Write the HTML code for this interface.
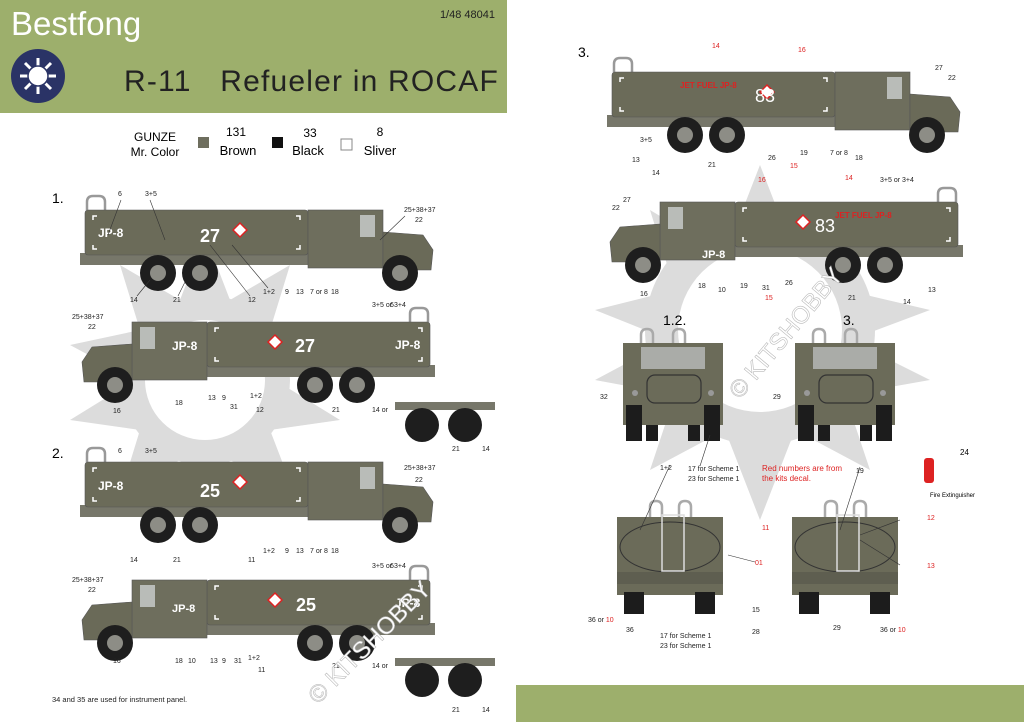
<!DOCTYPE html>
<html><head><meta charset="utf-8"><style>
html,body{margin:0;padding:0;background:#fff}
svg{display:block}
text{font-family:"Liberation Sans",sans-serif}
</style></head><body>
<svg width="1024" height="722" viewBox="0 0 1024 722" xmlns="http://www.w3.org/2000/svg">
<defs>
<g id="truck">
 <path d="M2,0 v-8 q0,-6 6,-6 h6 q6,0 6,6 v8" fill="none" stroke="#999" stroke-width="2.5"/>
 <rect x="-5" y="43" width="350" height="12" fill="#77776a"/>
 <rect x="0" y="0" width="223" height="45" rx="3" fill="#6b6b59" stroke="#555" stroke-width="0.6"/>
 <path d="M8,10 v-4 h4 M8,35 v4 h4 M215,10 v-4 h-4 M215,35 v4 h-4" stroke="#fff" stroke-width="1.5" fill="none"/>
 <rect x="223" y="0" width="75" height="58" fill="#6e6e5d" stroke="#555" stroke-width="0.6"/>
 <rect x="275" y="5" width="15" height="22" fill="#b9bcb8"/>
 <path d="M298,22 L338,25 L348,40 L346,60 L298,60 Z" fill="#6a6a58" stroke="#555" stroke-width="0.6"/>
 <g fill="#1e1e1e"><circle cx="73" cy="63" r="18"/><circle cx="115" cy="63" r="18"/><circle cx="315" cy="63" r="18"/></g>
 <g fill="#8d8d86"><circle cx="73" cy="63" r="8"/><circle cx="115" cy="63" r="8"/><circle cx="315" cy="63" r="8"/></g>
 <path d="M148,20 l7,-7 l7,7 l-7,7 z" fill="#fff" stroke="#d22" stroke-width="1.5"/>
</g>
<g id="front">
 <path d="M18,0 v-8 q0,-6 6,-6 q6,0 6,6 v8 M50,0 v-8 q0,-6 6,-6 q6,0 6,6 v8" fill="none" stroke="#aaa" stroke-width="2.5"/>
 <rect x="0" y="0" width="100" height="82" fill="#6b6b59"/>
 <rect x="18" y="4" width="64" height="22" fill="#aaaca8"/>
 <rect x="24" y="32" width="54" height="28" rx="8" fill="none" stroke="#333" stroke-width="1.2"/>
 <rect x="3" y="62" width="16" height="36" fill="#1c1c1c"/><rect x="81" y="62" width="16" height="36" fill="#1c1c1c"/>
 <rect x="23" y="82" width="12" height="16" fill="#1c1c1c"/><rect x="65" y="82" width="12" height="16" fill="#1c1c1c"/>
 <circle cx="12" cy="50" r="3" fill="#999"/><circle cx="88" cy="50" r="3" fill="#999"/>
</g>
<g id="rear">
 <path d="M33,0 v-10 q0,-6 6,-6 q6,0 6,6 v10 M62,0 v-10 q0,-6 6,-6 q6,0 6,6 v10" fill="none" stroke="#aaa" stroke-width="2.5"/>
 <rect x="0" y="0" width="106" height="78" fill="#6b6b59"/>
 <ellipse cx="53" cy="30" rx="50" ry="25" fill="none" stroke="#333" stroke-width="1"/>
 <rect x="45" y="-2" width="22" height="56" fill="none" stroke="#ddd" stroke-width="1.5"/>
 <rect x="0" y="55" width="106" height="12" fill="#5e5e50"/>
 <rect x="7" y="75" width="20" height="22" fill="#1c1c1c"/><rect x="78" y="75" width="20" height="22" fill="#1c1c1c"/>
</g>
</defs>

<rect x="0" y="0" width="507" height="113" fill="#9daf6c"/>
<text x="11" y="35" font-size="33" fill="#fff">Bestfong</text>
<text x="495" y="18" font-size="11" text-anchor="end" fill="#222">1/48 48041</text>
<circle cx="38" cy="76" r="27" fill="#2a3366"/>
<g stroke="#fff" stroke-width="3">
<path d="M38,58 V94 M20,76 H56 M25,63 L51,89 M51,63 L25,89"/></g>
<circle cx="38" cy="76" r="10" fill="#fff" stroke="#2a3366" stroke-width="1.5"/>
<text x="124" y="91" font-size="30" fill="#222" letter-spacing="1.2">R-11&#160;&#160; Refueler in ROCAF</text>

<text x="155" y="141" font-size="12" text-anchor="middle">GUNZE</text>
<text x="155" y="156" font-size="12" text-anchor="middle">Mr. Color</text>
<rect x="198" y="137" width="11" height="11" fill="#6e6e5e"/>
<text x="236" y="136" font-size="12" text-anchor="middle">131</text><text x="238" y="155" font-size="13" text-anchor="middle">Brown</text>
<rect x="272" y="137" width="11" height="11" fill="#111"/>
<text x="310" y="137" font-size="12" text-anchor="middle">33</text><text x="308" y="155" font-size="13" text-anchor="middle">Black</text>
<rect x="341" y="139" width="11" height="11" fill="#fff" stroke="#888"/>
<text x="380" y="136" font-size="12" text-anchor="middle">8</text><text x="380" y="155" font-size="13" text-anchor="middle">Sliver</text>

<g fill="#dcdcdc">
<polygon points="205,235 230,300 290,265 270,330 340,345 275,380 340,420 270,430 295,495 230,460 205,525 180,460 120,495 140,430 70,420 135,380 70,345 140,330 120,265 180,300"/>
<circle cx="205" cy="380" r="85"/>
</g>
<circle cx="205" cy="380" r="60" fill="#fff"/>
<g fill="#dcdcdc">
<polygon points="760,165 795,255 870,210 845,290 930,310 850,340 930,380 845,395 870,470 795,430 760,520 725,430 650,470 675,395 595,380 670,340 595,310 675,290 650,210 725,255"/>
<circle cx="760" cy="330" r="115"/>
</g>
<circle cx="760" cy="330" r="82" fill="#fff"/>

<text x="52" y="203" font-size="14">1.</text>
<text x="52" y="458" font-size="14">2.</text>
<text x="578" y="57" font-size="14">3.</text>

<use href="#truck" transform="translate(85,210)"/>
<use href="#truck" transform="translate(430,322) scale(-1,1)"/>
<use href="#truck" transform="translate(85,462)"/>
<use href="#truck" transform="translate(430,580) scale(-1,1)"/>
<use href="#truck" transform="translate(612,72)"/>
<use href="#truck" transform="translate(958,202) scale(-1,1)"/>

<g fill="#fff" font-family="Liberation Serif" font-weight="bold">
<text x="98" y="237" font-size="12">JP-8</text><text x="200" y="242" font-size="18">27</text>
<text x="395" y="349" font-size="12">JP-8</text><text x="295" y="352" font-size="18">27</text>
<text x="98" y="490" font-size="12">JP-8</text><text x="200" y="497" font-size="18">25</text>
<text x="395" y="607" font-size="12">JP-8</text><text x="296" y="611" font-size="18">25</text>
<text x="172" y="350" font-size="12">JP-8</text><text x="172" y="612" font-size="11">JP-8</text>
<text x="755" y="102" font-size="18" font-weight="normal">83</text>
<text x="815" y="232" font-size="18" font-weight="normal">83</text>
<text x="702" y="258" font-size="11">JP-8</text>
</g>
<g fill="#d22" font-size="8" font-weight="bold">
<text x="680" y="88">JET FUEL JP-8</text><text x="835" y="218">JET FUEL JP-8</text>
</g>

<rect x="395" y="402" width="100" height="8" fill="#77776a"/>
<circle cx="422" cy="425" r="17" fill="#1e1e1e"/><circle cx="465" cy="425" r="17" fill="#1e1e1e"/>
<rect x="395" y="658" width="100" height="8" fill="#77776a"/>
<circle cx="422" cy="680" r="17" fill="#1e1e1e"/><circle cx="465" cy="680" r="17" fill="#1e1e1e"/>

<text x="663" y="325" font-size="14">1.2.</text>
<text x="843" y="325" font-size="14">3.</text>
<use href="#front" transform="translate(623,343)"/>
<use href="#front" transform="translate(795,343)"/>
<use href="#rear" transform="translate(617,517)"/>
<use href="#rear" transform="translate(792,517)"/>
<text x="762" y="471" font-size="8" fill="#d22">Red numbers are from</text>
<text x="762" y="481" font-size="8" fill="#d22">the kits decal.</text>
<rect x="924" y="458" width="10" height="25" rx="3" fill="#d22"/>
<text x="930" y="497" font-size="6">Fire Extinguisher</text>
<text x="960" y="455" font-size="8">24</text>

<g font-size="7" fill="#222">
<text x="118" y="196">6</text><text x="145" y="196">3+5</text><text x="404" y="212">25+38+37</text><text x="415" y="222">22</text>
<text x="130" y="302">14</text><text x="173" y="302">21</text><text x="248" y="302">12</text><text x="263" y="294">1+2</text><text x="285" y="294">9</text><text x="296" y="294">13</text><text x="310" y="294">7 or 8</text><text x="331" y="294">18</text>
<text x="72" y="319">25+38+37</text><text x="88" y="329">22</text><text x="372" y="307">3+5 or 3+4</text><text x="390" y="307">6</text>
<text x="113" y="413">16</text><text x="175" y="405">18</text><text x="208" y="400">13</text><text x="222" y="400">9</text><text x="230" y="409">31</text><text x="250" y="398">1+2</text><text x="256" y="412">12</text><text x="332" y="412">21</text><text x="372" y="412">14 or</text>
<text x="118" y="453">6</text><text x="145" y="453">3+5</text><text x="404" y="470">25+38+37</text><text x="415" y="482">22</text>
<text x="130" y="562">14</text><text x="173" y="562">21</text><text x="248" y="562">11</text><text x="263" y="553">1+2</text><text x="285" y="553">9</text><text x="296" y="553">13</text><text x="310" y="553">7 or 8</text><text x="331" y="553">18</text>
<text x="72" y="582">25+38+37</text><text x="88" y="592">22</text><text x="372" y="568">3+5 or 3+4</text><text x="390" y="568">6</text>
<text x="113" y="663">16</text><text x="175" y="663">18</text><text x="188" y="663">10</text><text x="210" y="663">13</text><text x="222" y="663">9</text><text x="234" y="663">31</text><text x="248" y="660">1+2</text><text x="258" y="672">11</text><text x="332" y="668">21</text><text x="372" y="668">14 or</text>
<text x="452" y="451">21</text><text x="482" y="451">14</text><text x="452" y="712">21</text><text x="482" y="712">14</text>
<text x="52" y="702" font-size="7.5">34 and 35 are used for instrument panel.</text>
<text x="935" y="70">27</text><text x="948" y="80">22</text><text x="640" y="142">3+5</text><text x="632" y="162">13</text><text x="652" y="175">14</text><text x="708" y="167">21</text><text x="768" y="160">26</text><text x="800" y="155">19</text><text x="830" y="155">7 or 8</text><text x="855" y="160">18</text>
<text x="623" y="202">27</text><text x="612" y="210">22</text><text x="880" y="182">3+5 or 3+4</text><text x="640" y="296">16</text><text x="698" y="288">18</text><text x="718" y="292">10</text><text x="740" y="288">19</text><text x="762" y="290">31</text><text x="785" y="285">26</text><text x="848" y="300">21</text><text x="903" y="304">14</text><text x="928" y="292">13</text>
<text x="600" y="399">32</text><text x="773" y="399">29</text><text x="660" y="470">1+2</text><text x="688" y="471">17 for Scheme 1</text><text x="688" y="481">23 for Scheme 1</text><text x="856" y="473">19</text>
<text x="588" y="622">36 or <tspan fill="#d22">10</tspan></text><text x="626" y="632">36</text><text x="660" y="638">17 for Scheme 1</text><text x="660" y="648">23 for Scheme 1</text><text x="752" y="612">15</text><text x="752" y="634">28</text><text x="833" y="630">29</text><text x="880" y="632">36 or <tspan fill="#d22">10</tspan></text>
</g>
<g font-size="7" fill="#d22">
<text x="712" y="48">14</text><text x="798" y="52">16</text><text x="790" y="168">15</text><text x="758" y="182">16</text><text x="845" y="180">14</text><text x="765" y="300">15</text><text x="755" y="565">01</text><text x="762" y="530">11</text><text x="927" y="520">12</text><text x="927" y="568">13</text>
</g>
<g stroke="#333" stroke-width="0.6" fill="none">
<path d="M121,200 L108,235 M150,200 L165,240 M210,245 L250,296 M232,245 L268,288 M405,216 L380,240 M137,296 L150,280 M178,296 L185,282 M670,465 L640,530 M700,466 L710,435 M860,467 L840,530 M728,555 L755,562 M900,520 L860,535 M900,565 L860,540"/>
</g>
<text x="0" y="0" font-size="24" fill="#fff" stroke="#bbb" stroke-width="0.6" transform="translate(740,400) rotate(-50)">© KITSHOBBY</text>
<text x="0" y="0" font-size="24" fill="#fff" stroke="#bbb" stroke-width="0.6" transform="translate(318,705) rotate(-45)">© KITSHOBBY</text>
<rect x="516" y="685" width="508" height="37" fill="#9daf6c"/>
</svg>
</body></html>
